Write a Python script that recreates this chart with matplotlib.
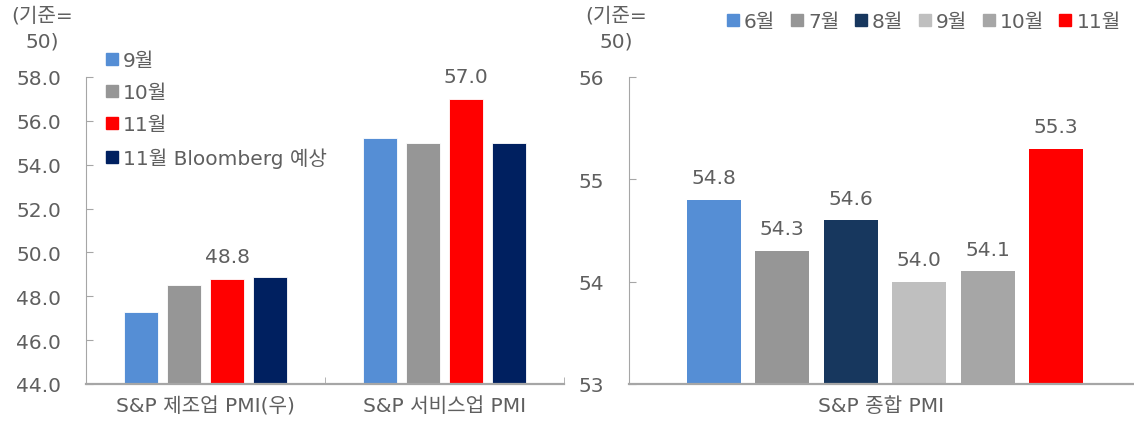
import matplotlib
matplotlib.use('Agg')
import matplotlib.pyplot as plt
from matplotlib.lines import Line2D
import numpy as np

plt.rcParams['font.family'] = ['DejaVu Sans', 'Noto Sans CJK KR']

# ── data ────────────────────────────────────────────────────────────────────
left_categories = ['S&P 제조업 PMI(우)', 'S&P 서비스업 PMI']
left_series = ['9월', '10월', '11월', '11월 Bloomberg 예상']
left_values = {
    '9월': [47.3, 55.2],
    '10월': [48.5, 55.0],
    '11월': [48.8, 57.0],
    '11월 Bloomberg 예상': [48.9, 55.0],
}
left_labelled = '11월'
left_colors = ['#558ED5', '#969696', '#FF0000', '#002060']
left_yticks = [44.0, 46.0, 48.0, 50.0, 52.0, 54.0, 56.0, 58.0]

right_category = 'S&P 종합 PMI'
right_months = ['6월', '7월', '8월', '9월', '10월', '11월']
right_values = [54.8, 54.3, 54.6, 54.0, 54.1, 55.3]
right_colors = ['#558ED5', '#969696', '#17375E', '#BFBFBF', '#A6A6A6', '#FF0000']
right_yticks = [53, 54, 55, 56]

unit_text = '(기준=\n50)'

TXT = '#5f5f5f'
AX = '#A6A6A6'
FS = 14.5

fig = plt.figure(figsize=(11.34, 4.27), dpi=100)


def style_axes(ax):
    for s in ['top', 'right']:
        ax.spines[s].set_visible(False)
    ax.spines['left'].set_color(AX)
    ax.spines['bottom'].set_color(AX)
    ax.spines['bottom'].set_linewidth(1.6)
    ax.tick_params(axis='y', direction='in', length=5, color=AX,
                   labelcolor=TXT, labelsize=FS, pad=18)
    ax.tick_params(axis='x', which='major', length=0, labelcolor=TXT,
                   labelsize=FS, pad=9)
    ax.tick_params(axis='x', which='minor', direction='in', length=5,
                   color=AX)


# ── left: manufacturing / services ───────────────────────────────────────────
ax1 = fig.add_axes([86 / 1134, 42 / 427, 478 / 1134, 307 / 427])
x = np.arange(len(left_categories))
pitch, width = 0.18, 0.142
for i, (name, col) in enumerate(zip(left_series, left_colors)):
    pos = x + (i - 1.5) * pitch
    ax1.bar(pos, left_values[name], width=width, color=col,
            edgecolor='white', linewidth=0.6)
    if name == left_labelled:
        for p, v in zip(pos, left_values[name]):
            ax1.annotate(f'{v:.1f}', (p, v), xytext=(0, 9),
                         textcoords='offset points', ha='center',
                         va='bottom', color=TXT, fontsize=FS)
ax1.set_xlim(-0.5, 1.5)
ax1.set_ylim(44, 58)
ax1.set_yticks(left_yticks)
ax1.set_yticklabels([f'{t:.1f}' for t in left_yticks])
ax1.set_xticks(x)
ax1.set_xticklabels(left_categories)
ax1.set_xticks([0.5, 1.5], minor=True)
style_axes(ax1)

handles = [Line2D([], [], marker='s', linestyle='none', markersize=8,
                  color=c) for c in left_colors]
ax1.legend(handles, left_series, loc='upper left',
           bbox_to_anchor=(0.022, 1.117), frameon=False, fontsize=FS,
           handlelength=0.5, handletextpad=0.3, labelspacing=0.65,
           labelcolor=TXT, borderpad=0)

fig.text(42 / 1134, 1 - 29 / 427, unit_text, ha='center', va='center',
         multialignment='center', color=TXT, fontsize=FS, linespacing=1.4)

# ── right: composite ─────────────────────────────────────────────────────────
ax2 = fig.add_axes([629 / 1134, 42 / 427, 505 / 1134, 307 / 427])
pitch2, width2 = 0.1356, 0.107
n = len(right_months)
for i, (m, v, c) in enumerate(zip(right_months, right_values, right_colors)):
    p = (i - (n - 1) / 2) * pitch2 + 0.007
    ax2.bar(p, v, width=width2, color=c, label=m)
    ax2.annotate(f'{v:.1f}', (p, v), xytext=(0, 9),
                 textcoords='offset points', ha='center', va='bottom',
                 color=TXT, fontsize=FS)
ax2.set_xlim(-0.5, 0.5)
ax2.set_ylim(53, 56)
ax2.set_yticks(right_yticks)
ax2.set_xticks([0])
ax2.set_xticklabels([right_category])
style_axes(ax2)

handles2 = [Line2D([], [], marker='s', linestyle='none', markersize=8,
                   color=c) for c in right_colors]
ax2.legend(handles2, right_months, loc='upper left', ncol=6,
           bbox_to_anchor=(0.176, 1.245), frameon=False, fontsize=FS,
           handlelength=0.5, handletextpad=0.3, columnspacing=0.82,
           labelcolor=TXT, borderpad=0)

fig.text(616 / 1134, 1 - 29 / 427, unit_text, ha='center', va='center',
         multialignment='center', color=TXT, fontsize=FS, linespacing=1.4)

fig.savefig('out.png', dpi=100)
